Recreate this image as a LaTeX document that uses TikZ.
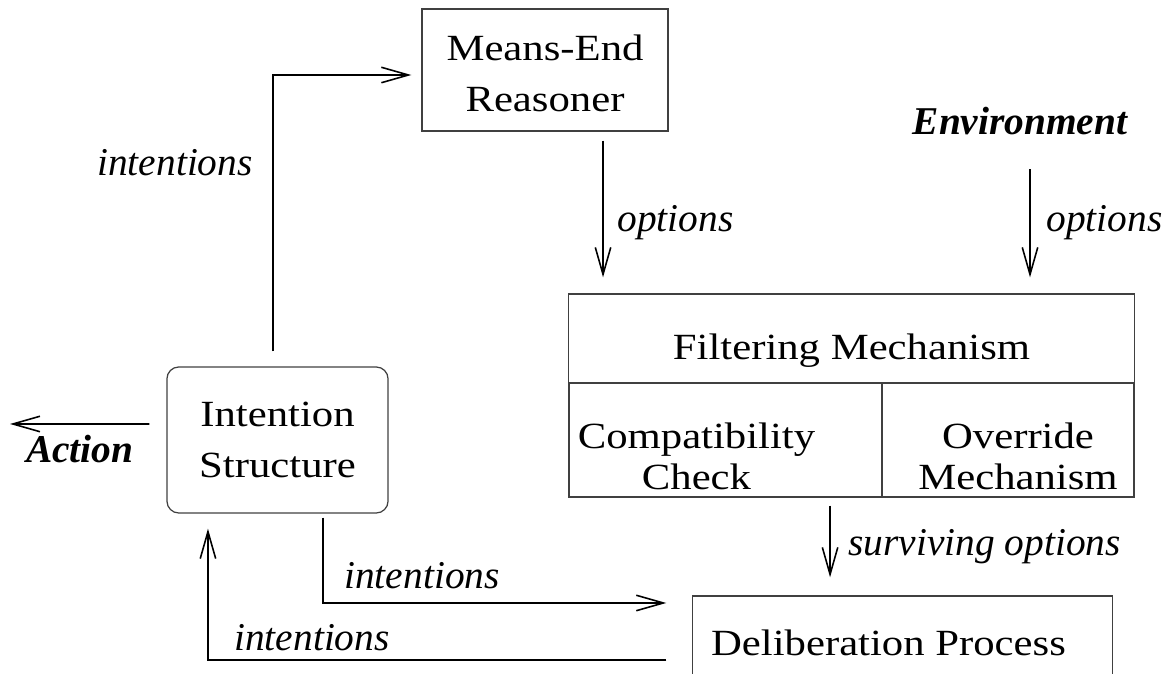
\documentclass[tikz,border=0pt]{standalone}
\usepackage{fontspec}
\setmainfont{Liberation Serif}
\newfontfamily\boxfont{Liberation Serif}[FakeStretch=1.157]
\usetikzlibrary{arrows.meta}
\begin{document}
\begin{tikzpicture}[x=0.01cm,y=-0.01cm,
           box/.style={draw=black!75,line width=0.35pt,inner sep=0pt,align=center,
                       font=\boxfont\fontsize{10.5}{14.5}\selectfont},
           ibox/.style={box,rounded corners=3.4pt},
           lbl/.style={inner sep=1pt,font=\itshape\fontsize{11.2}{13}\selectfont},
           flow/.style={draw=black,line width=0.45pt,-{Straight Barb[length=7.7pt,width=4.4pt]}}]
            \useasboundingbox (0,0) rectangle (1169,674);
            \clip (0,0) rectangle (1169,674);
            % boxes
            \node[box,minimum width=2.46cm,minimum height=1.22cm] (mer) at (545,70)
                {\raisebox{-0.06cm}[\height][\depth]{\begin{tabular}{@{}c@{}}Means-End\\Reasoner\end{tabular}}};
            \node[box,minimum width=5.65cm,minimum height=0.89cm] (filt) at (851.5,338.5)
                {\raisebox{-0.12cm}[\height][\depth]{Filtering Mechanism}};
            \node[box,minimum width=3.13cm,minimum height=1.14cm] (compat) at (725.5,440)
                {\raisebox{-0.19cm}[\height][\depth]{\begin{tabular}{@{}c@{}}Compatibility\\[-0.1cm]Check\end{tabular}}\kern0.58cm};
            \node[box,minimum width=2.52cm,minimum height=1.14cm] (over) at (1008,440)
                {\kern0.2cm\raisebox{-0.19cm}[\height][\depth]{\begin{tabular}{@{}c@{}}Override\\[-0.1cm]Mechanism\end{tabular}}};
            \node[box,minimum width=4.19cm,minimum height=0.94cm] (delib) at (902.5,643)
                {Deliberation Process\kern0.28cm};
            \node[ibox,minimum width=2.21cm,minimum height=1.46cm] (is) at (277.5,440) {Intention\\Structure};
            \node[lbl,font=\bfseries\itshape\fontsize{11.2}{13}\selectfont] (env) at (1020,121) {Environment};
            \coordinate (act) at (10,424);
            % connectors
            \draw[flow,shorten <=0.09cm,shorten >=0.16cm] ([xshift=0.58cm]mer.south)
                -- ([xshift=0.58cm]mer.south |- filt.north) node[lbl,pos=0.56,right=0.1cm] {options};
            \draw[flow,shorten <=0.3cm,shorten >=0.16cm] ([xshift=0.1cm]env.south)
                -- ([xshift=0.1cm]env.south |- filt.north) node[lbl,pos=0.54,right=0.12cm] {options};
            \draw[flow,shorten <=0.08cm,shorten >=0.18cm] ([xshift=1.045cm]compat.south)
                -- ([xshift=1.045cm]compat.south |- delib.north) node[lbl,midway,right=0.14cm] {surviving options};
            \draw[flow,shorten <=0.15cm,shorten >=0.1cm] ([xshift=-0.045cm]is.north)
                |- ([yshift=-0.05cm]mer.west) node[lbl,pos=0.35,left=0.16cm] {intentions};
            \draw[flow,shorten <=0.04cm,shorten >=0.26cm] ([xshift=0.455cm]is.south)
                |- ([yshift=0.4cm]delib.west) node[lbl,pos=0.5,anchor=south west,xshift=0.17cm,yshift=0.1cm] {intentions};
            \draw[flow,shorten <=0.26cm,shorten >=0.15cm] ([yshift=-0.17cm]delib.west)
                -| ([xshift=-0.695cm]is.south) node[lbl,pos=0.5,anchor=south west,xshift=0.22cm,yshift=0.05cm] {intentions};
            \draw[flow] ([xshift=-0.17cm,yshift=0.16cm]is.west) -- (act)
                node[lbl,midway,below=0.07cm,font=\bfseries\itshape\fontsize{11.2}{13}\selectfont] {Action};
\end{tikzpicture}
\end{document}
